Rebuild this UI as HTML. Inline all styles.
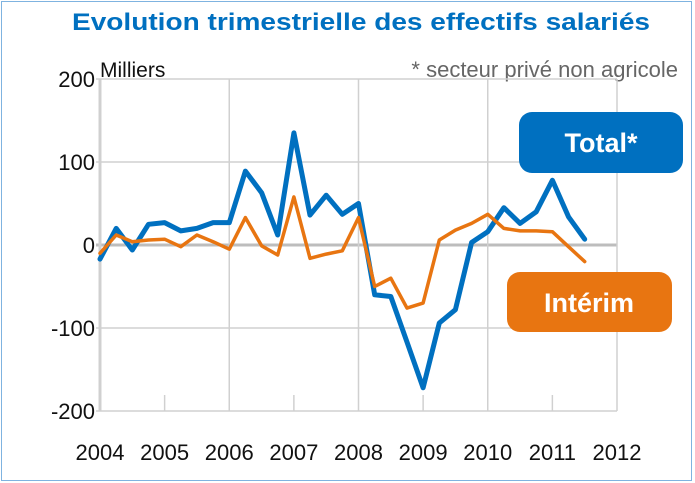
<!DOCTYPE html>
<html><head><meta charset="utf-8"><style>
html,body{margin:0;padding:0;background:#fff;}
svg{display:block;font-family:"Liberation Sans",sans-serif;}
</style></head><body>
<svg id="chart" width="695" height="483" viewBox="0 0 695 483">
<rect x="1.5" y="1.5" width="690" height="479" fill="#fff" stroke="#7fb3e0" stroke-width="1"/>
<text x="361" y="30" text-anchor="middle" font-size="24" font-weight="bold" fill="#0070c0" textLength="578" lengthAdjust="spacingAndGlyphs">Evolution trimestrielle des effectifs salariés</text>
<text x="100" y="77" font-size="21" fill="#111">Milliers</text>
<text x="678" y="77" text-anchor="end" font-size="22" fill="#666">* secteur privé non agricole</text>
<g id="grid"></g>
<g id="series"></g>
<g id="labels"></g>
<rect x="519" y="112" width="164" height="61" rx="13" fill="#0070c0"/>
<text x="601" y="152" text-anchor="middle" font-size="27" font-weight="bold" fill="#fff">Total*</text>
<rect x="507" y="272" width="165" height="60" rx="13" fill="#e87511"/>
<text x="589" y="312" text-anchor="middle" font-size="27" font-weight="bold" fill="#fff">Intérim</text>
</svg>
<script>
const yTicks = [200, 100, 0, -100, -200];
const xYears = [2004, 2005, 2006, 2007, 2008, 2009, 2010, 2011, 2012];
const totalValues = [-17,20,-6,25,27,17,20,27,27,89,63,12,135,36,60,37,50,-60,-62,-117,-172,-94,-78,3,16,45,26,40,78,34,7];
const interimValues = [-10,12,4,6,7,-2,12,4,-5,33,-1,-12,58,-16,-11,-7,33,-50,-40,-76,-70,6,18,26,37,20,17,17,16,-2,-20];
const NS='http://www.w3.org/2000/svg';
const L=100,R=617,T=79,B=411;
const xYear=y=>L+(y-2004)*(R-L)/8;
const xQ=i=>xYear(2004+i/4);
const yV=v=>T+(200-v)*(B-T)/400;
function mk(tag,attrs,parent){const e=document.createElementNS(NS,tag);for(const k in attrs)e.setAttribute(k,attrs[k]);parent.appendChild(e);return e;}
const grid=document.getElementById('grid'),labels=document.getElementById('labels'),series=document.getElementById('series');
yTicks.forEach(v=>{
  const ln=mk('line',{x1:L-4,x2:R,y1:yV(v),y2:yV(v),stroke:v===0?'#bdbdbd':'#d0d0d0','stroke-width':v===0?3:1.5},grid);
  
  
  const t=mk('text',{x:95,y:yV(v)+8,'text-anchor':'end','font-size':22,fill:'#111'},labels);
  t.textContent=v;
  
  
});
xYears.forEach((yr,i)=>{
  const x=xYear(yr);
  const even=(i%2===0);
  const ln=mk('line',{x1:x,x2:x,y1:even?T:B-16,y2:B,stroke:'#d0d0d0','stroke-width':(i===0)?3:1.5},grid);
  
  
  const t=mk('text',{x:x,y:460,'text-anchor':'middle','font-size':22,fill:'#111'},labels);
  t.textContent=yr;
  
  
});
function line(vals,color,w,name){
  const d=vals.map((v,i)=>(i?'L':'M')+xQ(i).toFixed(1)+','+yV(v).toFixed(1)).join(' ');
  const p=mk('path',{d:d,fill:'none',stroke:color,'stroke-width':w,'stroke-linejoin':'round','stroke-linecap':'round'},series);
  
  
}
line(totalValues,'#0070c0',5,'total-line');
line(interimValues,'#e87511',3.5,'interim-line');
</script>
</body></html>
